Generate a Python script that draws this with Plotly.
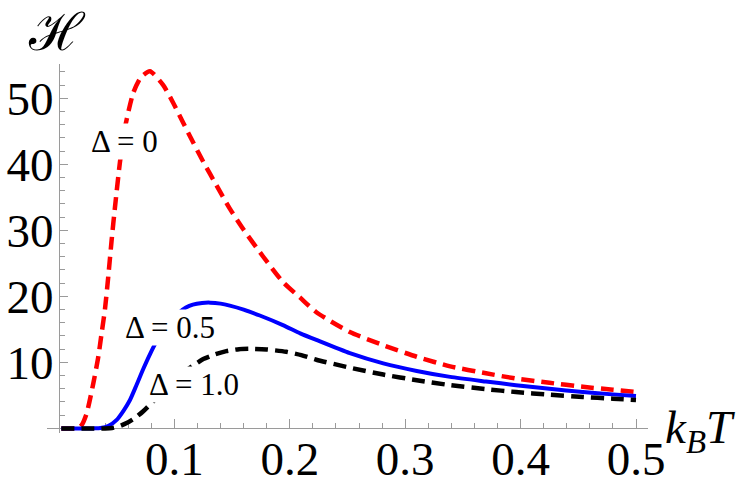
import plotly.graph_objects as go

# ---------------- data ----------------
x_d0 = [0.002, 0.010, 0.0167, 0.020, 0.024, 0.0297, 0.034, 0.037, 0.0398, 0.0427,
        0.0456, 0.0485, 0.0528, 0.0571, 0.0643, 0.071, 0.0788, 0.0903, 0.099, 0.1076,
        0.1163, 0.125, 0.1365, 0.148, 0.1596, 0.177, 0.194, 0.209, 0.223, 0.252,
        0.281, 0.310, 0.339, 0.370, 0.396, 0.425, 0.454, 0.480, 0.500]
y_d0 = [0.0, 0.0, 0.0, 0.6, 2.3, 6.8, 10.8, 14.5, 18.0, 23.0,
        28.5, 33.5, 40.3, 45.5, 50.8, 53.2, 54.1, 52.0, 49.3, 46.3,
        43.3, 40.4, 36.8, 33.3, 30.2, 26.0, 22.2, 19.8, 17.6, 14.6,
        12.6, 10.85, 9.4, 8.35, 7.55, 6.9, 6.3, 5.85, 5.5]

x_d05 = [0.002, 0.020, 0.030, 0.036, 0.043, 0.050, 0.056, 0.0615, 0.067, 0.073,
         0.079, 0.0846, 0.090, 0.097, 0.103, 0.110, 0.116, 0.124, 0.131, 0.140,
         0.148, 0.160, 0.174, 0.194, 0.209, 0.223, 0.252, 0.281, 0.310, 0.339,
         0.370, 0.396, 0.425, 0.454, 0.480, 0.500]
y_d05 = [0.0, 0.0, 0.0, 0.05, 0.4, 1.3, 2.7, 4.3, 6.5, 9.0,
         11.3, 13.2, 14.6, 16.3, 17.4, 18.3, 18.75, 19.0, 19.05, 18.9,
         18.6, 18.0, 17.1, 15.65, 14.4, 13.4, 11.4, 9.85, 8.7, 7.8,
         7.1, 6.55, 6.0, 5.5, 5.15, 4.9]

x_d10 = [0.002, 0.020, 0.040, 0.046, 0.052, 0.0586, 0.066, 0.073, 0.081, 0.090,
         0.099, 0.108, 0.117, 0.125, 0.135, 0.145, 0.156, 0.168, 0.180, 0.197,
         0.210, 0.223, 0.252, 0.281, 0.310, 0.339, 0.370, 0.396, 0.425, 0.454,
         0.480, 0.500]
y_d10 = [0.0, 0.0, 0.0, 0.05, 0.3, 0.8, 1.6, 2.6, 4.0, 5.6,
         7.2, 8.5, 9.6, 10.5, 11.2, 11.7, 12.0, 12.05, 11.95, 11.6,
         11.1, 10.4, 9.2, 8.15, 7.3, 6.55, 5.95, 5.5, 5.1, 4.75,
         4.5, 4.3]

x_tick_vals = [0.1, 0.2, 0.3, 0.4, 0.5]
x_tick_text = ["0.1", "0.2", "0.3", "0.4", "0.5"]
y_tick_vals = [10, 20, 30, 40, 50]
y_tick_text = ["10", "20", "30", "40", "50"]

series_labels = ["Δ = 0", "Δ = 0.5", "Δ = 1.0"]

# ---------------- layout geometry ----------------
W, H = 750, 490
L, R, T, B = 47, 648, 64, 433
X_RANGE = [-0.0104, 0.5104]
Y_RANGE = [-0.7, 55.2]


def px_x(p):
    return (p - L) / (R - L)


def px_y(p):
    return (B - p) / (B - T)


x_axis_pos = (0 - Y_RANGE[0]) / (Y_RANGE[1] - Y_RANGE[0])
y_axis_pos = (0 - X_RANGE[0]) / (X_RANGE[1] - X_RANGE[0])

SERIF = "Liberation Serif, Times New Roman, serif"
AX = "#9a9a9a"

fig = go.Figure()
fig.add_trace(go.Scatter(x=x_d0, y=y_d0, mode="lines",
                         line=dict(color="#ff0000", width=4.5, dash="13px,7px",
                                   shape="spline", smoothing=0.6),
                         name=series_labels[0]))
fig.add_trace(go.Scatter(x=x_d05, y=y_d05, mode="lines",
                         line=dict(color="#0000ff", width=4, shape="spline", smoothing=0.6),
                         name=series_labels[1]))
fig.add_trace(go.Scatter(x=x_d10, y=y_d10, mode="lines",
                         line=dict(color="#000000", width=4.5, dash="13px,7px",
                                   shape="spline", smoothing=0.6),
                         name=series_labels[2]))

minor_x = [round(0.02 * i, 2) for i in range(1, 26) if i % 5 != 0]
minor_y = [2 * i for i in range(1, 28) if i % 5 != 0]

fig.update_layout(
    width=W, height=H,
    margin=dict(l=L, r=W - R, t=T, b=H - B, autoexpand=False),
    plot_bgcolor="white", paper_bgcolor="white",
    showlegend=False,
    xaxis=dict(range=X_RANGE, anchor="free", position=x_axis_pos,
               showgrid=False, zeroline=False, showline=True,
               linecolor=AX, linewidth=1, layer="below traces",
               ticks="inside", ticklen=9, tickcolor=AX, tickwidth=1,
               tickvals=x_tick_vals, ticktext=x_tick_text,
               tickfont=dict(family=SERIF, size=47, color="black"),
               ticklabelstandoff=-11,
               minor=dict(tickvals=minor_x, ticks="inside", ticklen=5,
                          tickcolor=AX, showgrid=False)),
    yaxis=dict(range=Y_RANGE, anchor="free", position=y_axis_pos,
               showgrid=False, zeroline=False, showline=True,
               linecolor=AX, linewidth=1, layer="below traces",
               ticks="inside", ticklen=8, tickcolor=AX, tickwidth=1,
               tickvals=y_tick_vals, ticktext=y_tick_text,
               tickfont=dict(family=SERIF, size=47, color="black"),
               ticklabelstandoff=-4,
               minor=dict(tickvals=minor_y, ticks="inside", ticklen=5,
                          tickcolor=AX, showgrid=False)),
)

label_pos = [(0.0571, 43.4), (0.0961, 15.35), (0.1173, 6.7)]
for txt, (lx, ly) in zip(series_labels, label_pos):
    fig.add_annotation(x=lx, y=ly, xref="x", yref="y", text=txt, showarrow=False,
                       font=dict(family=SERIF, size=31, color="black"),
                       bgcolor="white", borderpad=0, xanchor="center", yanchor="middle")

fig.add_annotation(x=px_x(57), y=px_y(0), xref="paper", yref="paper",
                   text="ℋ", showarrow=False,
                   font=dict(family="DejaVu Serif", size=52, color="black"),
                   xanchor="center", yanchor="top")
fig.add_annotation(x=px_x(700), y=px_y(430), xref="paper", yref="paper",
                   text="<i>k</i><sub><i>B</i></sub><i>T</i>", showarrow=False,
                   font=dict(family=SERIF, size=47, color="black"),
                   xanchor="center", yanchor="middle")

fig.write_html("out.html")
